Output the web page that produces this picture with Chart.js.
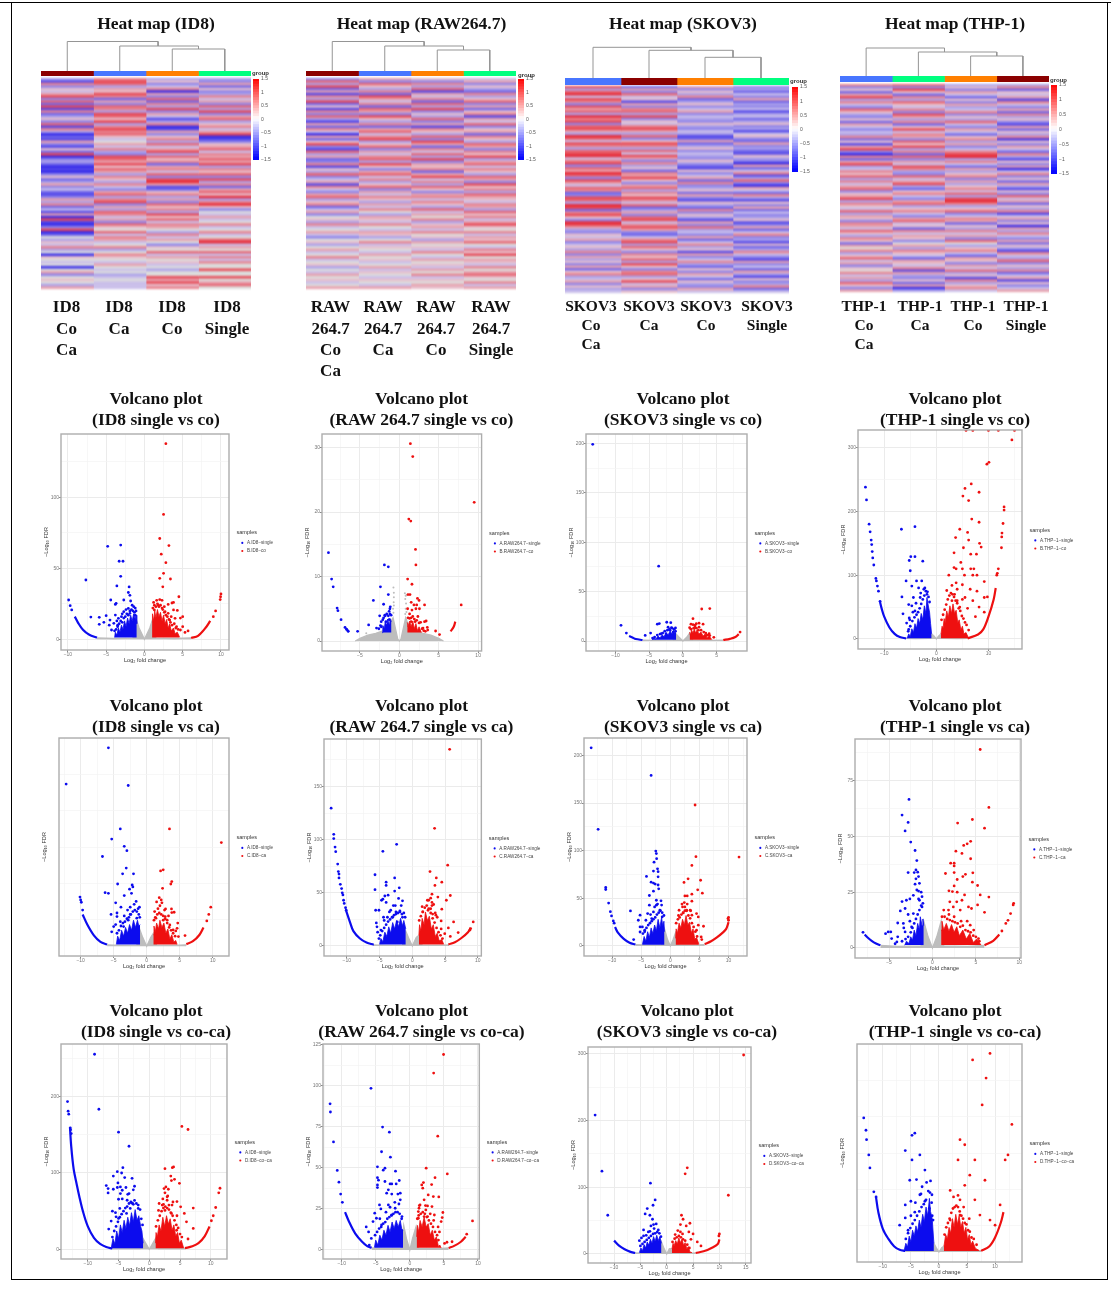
<!DOCTYPE html>
<html>
<head>
<meta charset="utf-8">
<script src="https://cdn.jsdelivr.net/npm/chart.js@4"></script>
<style>
html,body{margin:0;padding:0;background:#fff;width:1111px;height:1289px;overflow:hidden}
canvas{position:absolute;display:block}
.heat{filter:url(#rowBlur)}
.vol{filter:blur(.35px)}
.t{position:absolute;transform:translate(-50%,-50%);font:bold 17.5px "Liberation Serif",serif;color:#111;white-space:nowrap;filter:blur(.25px)}
.g{position:absolute;font:bold 6px "Liberation Sans",sans-serif;color:#333;white-space:nowrap}
.f{position:absolute;background:#000}
</style>
</head>
<body>
<svg width="0" height="0" style="position:absolute"><filter id="rowBlur" x="0" y="-3%" width="100%" height="106%" color-interpolation-filters="sRGB"><feGaussianBlur stdDeviation="0 .85"/></filter></svg>
<script>
// ---------- heat maps: one list per sample column, in steps of heatStep, top row first
const heatStep=0.25;
const id8Heat1=[-2,-5,3,-3,1,-1,2,5,-3,4,-4,5,-5,3,-4,-2,1,-3,4,-5,3,-2,-6,-4,-5,2,-3,-5,1,-4,5,-6,-3,-2,-4,-6,-5,-6,-3,1,-4,-2,2,-3,-1,-4,-5,-3,2,-2,3,-4,-1,-5,2,-6,5,-5,-6,-3,5,-6,-4,0,-2,1,-1,3,-2,0,-6,1,0,-1,0,-6,0,2,-3,0,1,0,-2,2];
const id8Heat2=[3,5,4,-2,2,1,5,3,-4,2,-3,4,3,-2,5,4,1,5,-2,3,5,3,4,1,-1,0,2,-1,3,-2,-3,5,4,2,5,1,4,2,-2,3,1,-2,3,-1,-3,2,4,-2,3,5,-3,2,-2,4,3,-1,2,-3,4,1,0,4,-1,3,2,-1,0,3,-2,0,3,1,0,-1,2,0,-1,0,-2,-1,0,-1,-1,-1];
const id8Heat3=[-2,1,-3,-1,3,-6,2,-3,4,-4,3,-2,5,-3,2,-1,-5,-2,3,-6,-5,2,-3,1,3,-2,4,-1,2,5,-2,4,1,3,-4,2,3,-1,4,-3,5,6,2,-5,-4,1,3,-2,2,-3,4,1,3,-2,5,1,4,-1,3,2,0,-2,3,-1,2,0,-3,1,0,4,-1,2,0,1,-1,0,-2,0,0,5,2,5,1,3];
const id8Heat4=[-2,-3,2,-4,1,-3,-2,3,-1,2,-3,4,-2,5,-3,2,4,-2,1,3,-1,2,5,-6,-5,-3,1,2,4,-1,3,2,4,2,5,-2,3,1,4,-3,5,-2,3,-4,2,4,1,6,-2,3,6,1,-3,0,-1,2,-1,0,3,-1,0,3,-1,0,4,6,-1,2,0,4,-1,3,-1,3,0,0,5,0,0,5,0,2,4,0];
const rawHeat1=[-3,4,-2,5,-4,2,-5,3,-2,5,-4,1,-5,3,-3,4,-2,-5,2,-4,3,-1,-6,2,-4,1,5,-3,-5,4,-2,2,-4,-3,3,-5,1,-2,4,-3,-1,2,-5,3,-1,-3,2,4,-2,1,3,-4,-1,2,-3,0,1,-2,3,-1,0,2,-1,-3,0,1,-2,0,2,-1,0,3,-1,0,1,-2,0,-1,2,0,1,-1,0,2];
const rawHeat2=[2,-3,4,1,-2,3,-4,5,2,-1,3,-4,4,2,-3,5,1,-2,3,-4,2,4,-1,3,5,-2,1,4,-3,2,-1,3,4,-2,5,1,-3,2,4,-1,3,-2,1,4,-3,2,-1,3,1,-2,2,-1,3,0,-2,2,1,-1,3,0,-1,2,1,-2,0,3,-1,1,0,-1,2,0,1,-1,0,2,-1,1,0,-1,1,0,-1,2];
const rawHeat3=[1,-3,3,-2,4,-5,2,-1,3,-4,4,-2,5,-3,1,-2,4,-3,2,-5,3,1,-2,4,-3,5,2,-4,3,-1,4,-2,5,-3,2,1,3,-4,2,5,-1,3,-2,4,1,-3,2,3,-1,3,1,-2,4,-1,2,0,3,-2,1,2,-1,3,0,1,-2,2,0,1,-1,3,0,-1,2,0,1,-1,2,0,3,-1,1,0,2,1];
const rawHeat4=[-1,2,-3,1,-2,-4,3,-2,1,4,-3,2,-4,1,3,-5,2,-1,4,-3,1,2,-4,3,1,-2,4,2,-3,3,1,5,-2,2,4,-1,3,1,-2,4,2,-3,5,1,3,-2,4,2,1,-1,3,2,-2,4,1,3,-1,2,5,1,0,3,-1,2,1,4,0,-1,3,1,5,0,2,1,-1,3,0,2,4,1,0,3,-1,2];
const skovHeat1=[5,-2,4,6,-1,5,3,-3,5,2,4,-2,6,3,5,-3,4,5,2,-2,6,4,-1,5,3,-2,4,5,6,-1,3,5,-3,4,2,6,4,-3,5,2,-1,4,3,-4,-3,5,4,-2,6,5,-4,3,5,1,-3,6,5,2,-2,-3,1,-1,2,-3,-1,1,-2,3,-3,2,-2,1,-3,2,-4,1,3,-2,-1,2,-3,1,-2,-1];
const skovHeat2=[-4,2,-3,4,-1,1,-5,2,-3,3,4,-2,5,-3,1,-1,3,5,2,-2,4,-3,1,5,3,-2,4,-1,5,2,-3,3,-2,1,-4,3,2,5,1,-3,2,4,-2,3,1,5,3,-1,4,-4,-2,2,-3,4,5,-1,3,5,2,-3,-4,-1,3,5,-2,4,1,-3,3,1,4,-2,5,1,-3,3,4,-2,1,5,-1,2,-3,1];
const skovHeat3=[2,-3,1,-2,3,-4,-2,1,-3,-1,2,-3,-1,-2,-3,1,-2,-3,-1,-2,-5,-4,2,-4,-2,1,-3,-1,-2,-3,1,-2,-4,-5,1,-3,-1,2,-4,3,-3,-2,1,-4,2,-3,-5,1,-2,-4,3,-3,1,-2,-5,2,-3,4,-2,-1,-3,2,-4,-1,3,-2,1,-5,2,-3,-1,3,-2,-4,1,-3,2,-1,-4,1,-2,-3,2,-1];
const skovHeat4=[-3,-2,-4,-1,-3,2,-4,-2,-3,-1,-5,-2,-1,-4,-2,1,-3,-2,-5,-1,1,-3,-4,2,-3,-2,-4,-5,1,-2,-3,-6,2,-4,-1,3,-5,-2,4,-3,-6,2,-1,-4,3,-2,-5,1,-3,2,-4,-1,-3,-2,1,-5,-3,2,-4,-1,3,-3,-2,-5,1,-4,-2,3,-1,-3,-5,2,-3,-1,-4,2,-2,-5,1,-3,-2,3,-4,-1];
const thpHeat1=[3,-3,1,-4,2,5,-2,3,-1,-3,4,1,-2,-3,1,-4,2,-1,-3,-1,-2,3,-4,1,-5,2,5,-3,-6,3,-4,2,5,-2,-1,3,1,4,-2,3,-1,2,4,-3,1,2,5,-2,3,1,-1,4,-2,2,1,-3,3,2,-1,4,1,-2,3,1,-4,2,0,3,-2,1,4,-1,2,-3,1,0,3,-1,2,-2,4,1,-3,2];
const thpHeat2=[4,-3,5,1,-4,3,-2,4,1,-1,3,-3,5,2,-2,3,-4,1,5,-1,3,2,-3,4,1,5,-2,3,-4,4,-3,2,-1,5,3,-2,-3,4,-1,2,5,-2,-4,1,3,-1,-3,2,4,-2,1,3,-1,-3,2,4,-1,1,-4,3,-1,2,1,-3,0,2,-2,3,1,-1,-4,2,1,-1,3,-5,2,-2,-3,1,-4,2,-6,-2];
const thpHeat3=[-2,1,-3,2,-1,-4,1,-3,2,-2,-1,3,-3,1,-2,4,-1,-3,2,-1,-4,1,3,-2,2,-3,-1,3,5,6,-2,3,-1,-4,2,-2,1,3,-3,2,-2,1,3,-1,4,-2,5,6,3,-2,1,4,-3,-1,3,2,-4,1,-2,3,-1,2,-3,4,0,-2,1,3,-1,-4,2,1,-3,2,-1,4,-2,1,-5,3,-2,1,3,-1];
const thpHeat4=[-2,3,-4,1,-1,2,-5,3,-1,-3,2,-4,3,-2,1,-3,-5,2,-4,1,-2,3,-6,1,-3,2,-1,-4,3,-2,-5,1,-3,2,-6,-1,3,-3,1,-4,2,-2,-5,1,-3,4,-1,2,-4,1,-2,3,-5,-1,2,-3,1,-6,2,-2,3,-1,-3,2,-4,1,-2,-5,3,-1,-2,4,-3,1,-2,3,-4,-1,2,-5,1,-3,-1,2];
const colourbarLevels=[-1.5,-1.4,-1.3,-1.2,-1.1,-1,-.9,-.8,-.7,-.6,-.5,-.4,-.3,-.2,-.1,0,.1,.2,.3,.4,.5,.6,.7,.8,.9,1,1.1,1.2,1.3,1.4,1.5];
const groupDarkRed='#8b0000',groupBlue='#4876ff',groupOrange='#ff7f00',groupGreen='#00ff7f';
// dendrogram polylines: x in column units, y is merge height
const id8Tree=[[.5,0,.5,29.5,2.23,29.5,2.23,25],[1.5,0,1.5,25,3,25,3,22],[2.5,0,2.5,22,3.5,22,3.5,0]];
const rawTree=[[.5,0,.5,29.5,2.25,29.5,2.25,25],[1.5,0,1.5,25,3,25,3,21],[2.5,0,2.5,21,3.5,21,3.5,0]];
const skovTree=[[.5,0,.5,30.7,2.25,30.7,2.25,27.7],[1.5,0,1.5,27.7,3,27.7,3,20.7],[2.5,0,2.5,20.7,3.5,20.7,3.5,0]];
const thpTree=[[.5,0,.5,28,2,28,2,24],[1.5,0,1.5,24,3,24,3,20],[2.5,0,2.5,20,3.5,20,3.5,0]];

// ---------- volcano plots: flat x,y lists
const id8CoBlue=[-9.9,27.7,-9.7,23.7,-9.5,20.7,-7.65,41.8,-7,15.7,-5.9,15.5,-5.3,12,-5.9,10.6,-5,16.7,-4.8,65.5,-3.1,66.4,-3.3,55,-2.8,55,-3.1,44.4,-3.6,37.6,-2,36.9,-4.4,27.7,-3.7,25.4,-3.8,24.6,-2.1,33,-1.9,31,-2.7,27.7,-1.8,27,-4.5,13.6,-3.8,17.1,-4.6,10,-4.3,6.6,-3.4,14.8,-2.7,19.5,-2.1,21.8,-1.4,23,-1.2,17,-4,11.3,-3.5,8.9,-3,16,-1.9,18.3];
const id8CoBlueCloud=[-3.7,7,-3.5,10,-3.3,11,-3.1,13,-2.9,12,-2.7,15,-2.5,16,-2.3,18,-2.1,17,-1.9,20,-1.7,21,-1.5,20,-1.3,19,-1.1,20,-3.9,6,-3.6,13,-2.4,21,-1.6,24,-1.2,22,-2.9,18];
const id8CoRed=[2.8,137.8,2.5,88,2,71,3.2,66,2.2,60,2.8,54,2.5,46.5,2,43,3.4,42.5,2.4,37,4.5,30,1.6,27.5,2.3,27.5,3.6,25.6,3.8,26,3.1,24.6,1.8,24,1.3,20.7,3.8,20.7,4.3,20.4,3.1,18.3,5,16,4.7,15,2.3,22,2.7,19.5,4,14.8,3.3,13.6,5,8.9,4.7,6.6,5.7,5.9,5.3,4.9,4.2,8.9,9,16,9.3,20,9.95,30,10,32,9.9,28];
const id8CoRedCloud=[1.1,22,1.3,24,1.5,23,1.7,25,1.9,23,2.1,24,2.4,21,2.6,19,2.8,17,3,16,3.2,14,3.4,12,3.6,10,3.9,11,4.1,8,4.4,7,1.2,26,2,28,2.6,23,3.5,16];
const id8CoBlueMass=[-3.9,1.3,-3.8,5,-3.6,3,-3.4,8,-3.2,5,-3,10,-2.8,7,-2.6,13,-2.4,9,-2.2,15,-2,11,-1.8,17,-1.6,13,-1.4,18,-1.2,14,-1.1,17,-1,11];
const id8CoRedMass=[1,12,1.05,18,1.2,13,1.35,20,1.5,15,1.7,21,1.9,16,2.1,19,2.3,13,2.5,17,2.7,11,2.9,14,3.1,8,3.3,11,3.5,6,3.8,8,4,4,4.3,5,4.6,1.5];
const id8CoBlueArc=[-9.1,16,-8.7,12,-8,6.5,-7.2,3.2,-6.2,1.2];
const id8CoRedArc=[6.1,1,7,2.5,8.1,8.9,8.6,13];
const id8CoGrey=[-6.2,1,-4,.6,-1.5,.8,-1,13,-.7,8,0,0,.7,8,1,13,1.5,.8,4,.6,6.1,1];

const rawCoBlue=[-9,13.7,-8.6,9.6,-8.4,8.4,-7.9,5.1,-7.8,4.7,-7.4,3.3,-5.3,1.5,-3.9,2.5,-3.3,6.3,-2.4,8.4,-1.9,11.8,-1.4,11.5,-1.4,7.2,-2,5.7,-1.15,5.3,-1.2,5,-1.3,4.6,-2.5,3.9,-1.85,4,-2.1,3.3,-1.7,3,-1.3,3.3,-2.9,2,-2.6,1.9,-2.3,2.2,-1.5,2.5,-6.9,2.1,-6.7,1.8,-6.5,1.5];
const rawCoBlueCloud=[-2.3,3,-2,3.6,-1.8,3.9,-1.6,4.2,-1.4,3.9,-1.2,4.2,-1.05,4,-2.4,2.4];
const rawCoRed=[1.4,30.6,1.7,28.6,1.2,18.9,1.45,18.6,9.5,21.5,2.05,14.2,2.1,11.8,1.05,9.6,1.6,8.8,1.1,7.2,1.35,7.2,2.3,6.6,2.5,6.3,1.5,6,1.85,5.6,2.2,5.6,3.2,5.6,1.05,5,1.6,4.8,2.1,5,2.55,5,1.7,3.8,2.35,3.8,1.3,3.5,3.2,3,3.4,3.1,2.7,2.9,1.5,3,2,3,4.6,1.55,5.1,1,3.55,2.1,3.6,1.7,3,2,7.85,5.6];
const rawCoRedCloud=[1.1,3.6,1.3,4.2,1.5,3.6,1.9,3.4,2.2,3.2,2.5,2.8,2.9,1.9,3.1,1.6,3.3,1.5];
const rawCoBlueMass=[-2.2,1.3,-2.1,2.4,-1.9,1.9,-1.8,3,-1.6,2.3,-1.5,3.4,-1.3,2.6,-1.2,3.5,-1,3];
const rawCoRedMass=[1,2.9,1.1,2.2,1.3,3.1,1.5,2.2,1.7,3.1,1.9,1.9,2.1,2.7,2.3,1.6,2.5,2.2,2.8,1.3];
const rawCoBlueArc=[-6.8,2,-6.4,1.4];
const rawCoRedArc=[6.5,1.5,6.9,2.2,7.1,3];
const rawCoGrey=[-5.6,0,-5,.4,-4,.9,-3,1.2,-2,1.6,-1,3.2,-.8,3.6,-.2,.3,0,0,.2,.3,.8,3.6,1,3,1.5,1.6,3,1.2,4,.9,5,.4,5.6,0];
const rawCoGreyDots=[-.75,8.3,-.7,7.5,-.7,6.8,-.72,6,-.7,5.5,-.8,5,.7,7.4,.8,7,.9,7.1,.75,6.5,.85,5.8,.8,5,.9,4.5,-4.2,1.2,-3.5,.8,.75,4.2,-.75,4.4];

const skovCoBlue=[-13.4,199,-3.6,75.7,-9.2,15.9,-8.4,8,-5.6,5.7,-4.8,8,-3.8,17,-3.5,17.6,-2.4,19,-1.8,18.6,-2.2,14,-1.7,13.5,-1.1,13.2,-2.5,7.4,-1.9,10.8,-1.45,9,-3.2,7.4];
const skovCoBlueCloud=[-4.2,4,-3.8,6,-3.4,7,-3,8,-2.7,10,-2.3,11,-2,12,-1.6,13,-1.3,12,-1.1,10,-4.5,3];
const skovCoRed=[2.8,32.4,4,32.8,1.5,22.6,1.2,17,1.5,16.5,2,17.5,2.4,18,3,17,1.8,14,2.4,14,1,13.5,3.5,5.7,3.9,7.4,4.6,3.7,8.5,9];
const skovCoRedCloud=[1.2,12,1.6,13,2,13,2.3,11,2.7,11,3.1,9,3.4,8,3.7,6,4,5.5,1.8,16];
const skovCoBlueMass=[-4.6,1.3,-4.3,3,-4,2,-3.7,5,-3.4,3,-3.1,6,-2.8,4.5,-2.5,8,-2.2,6,-1.9,10,-1.6,7,-1.4,11,-1.2,8,-1,9];
const skovCoRedMass=[1,9,1.1,6,1.3,11,1.5,8,1.7,12,1.9,8,2.1,11,2.4,7,2.7,9,3,5,3.3,7,3.6,3,3.9,5,4.3,1.5];
const skovCoBlueArc=[-8,5,-7.5,3.5,-7,2,-6,1];
const skovCoRedArc=[6,1,7,2.2,7.8,4,8.3,7];
const skovCoGrey=[-6,1,-4,.7,-1.5,.8,-1,7,-.6,4,0,0,.6,4,1,8,1.5,.8,4,.7,6,1];

const thpCoBlue=[-13.6,238,-13.4,218,-12.9,180,-12.7,168,-12.5,155,-12.4,148,-12.3,137,-12.2,127,-12,116,-11.6,95,-11.5,91,-11.3,83,-11.1,75,-10.8,59,-6.7,172,-4.1,176,-4.9,129,-4.1,129,-5.2,123,-2.6,122,-5,107,-6.6,66,-6.4,39.5,-5.8,91,-4.7,83,-3.8,91,-2.8,91,-5.3,54,-4.4,65,-3.4,80,-2.2,80,-3.1,65,-1.8,70,-5.7,25,-5.2,33,-4.1,44,-5.3,15,-4.7,52];
const thpCoBlueCloud=[-5.4,12,-5,20,-4.6,28,-4.2,34,-3.8,38,-3.5,42,-3.2,48,-2.9,55,-2.6,62,-2.3,68,-2,75,-1.7,74,-1.5,66,-1.3,58,-4.5,42,-3.9,56,-3,72,-2.4,78,-5.1,30];
const thpCoRed=[5.7,327,7,327,10,327,11.9,327,15,327,14.5,312,9.7,274,10.1,277,5.5,236,6.7,243,5.1,224,6.2,217,8.2,230,13,207,13,202,6.8,188,8.2,183,12.8,181,4.5,172,6,167,12.6,166,12.55,160,3.7,159,6.2,155,8.3,150,5.2,143,8.6,144,12.5,143,3.4,135,6.6,133,7.7,133,4.7,120,3.4,112,3.8,110,5,110,6.6,110,7.2,110,11.9,110,11.7,103,11.6,100,2.4,100,5.4,100,7,100,7.8,100,9.2,90,3.8,88,5,85,6.5,78,7.8,75,3.5,70,5.5,65,7,60,4,60,9.8,66,9.2,65,8.2,50,3,60,4.5,50,6,48,7.5,35,9.2,42];
const thpCoRedCloud=[1,30,1.3,38,1.6,46,1.9,54,2.2,62,2.5,68,2.8,72,3.1,70,3.4,66,3.7,60,4,56,4.3,48,4.6,44,4.9,36,5.2,32,5.5,26,5.8,22,6.2,14,2,76,3,84,4,78,5,62];
const thpCoBlueMass=[-5.6,1,-5.3,8,-5,4,-4.7,16,-4.4,10,-4.1,24,-3.8,17,-3.5,32,-3.2,24,-2.9,40,-2.6,30,-2.3,52,-2,40,-1.8,65,-1.5,50,-1.3,42,-1.1,24,-.9,8];
const thpCoRedMass=[.9,8,1.1,20,1.3,17,1.5,32,1.7,26,2,44,2.3,34,2.6,52,2.9,40,3.2,55,3.5,40,3.8,45,4.1,26,4.4,30,4.7,14,5,20,5.3,8,5.7,10,6.2,1];
const thpCoBlueArc=[-10.8,58,-10.5,48,-10,35,-9,18,-8,8,-7,3,-5.8,1];
const thpCoRedArc=[6,1,8,7,9,15,10,35,11,62,11.4,80];
const thpCoGrey=[-5.8,1,-4,.5,-1.5,.8,-.9,8,-.5,5,0,0,.5,5,.9,8,1.5,.8,4,.5,6,1];

const id8CaBlue=[-12.2,112,-5.8,137,-2.8,111,-4,81,-5.3,74,-3.4,69,-3,66,-6.7,62,-3.1,54,-3.65,50,-2,50,-4.4,43,-2.2,42.4,-2.1,41,-2.6,39.4,-2.3,36.6,-6.3,37,-5.8,36.6,-3.4,35,-10.1,34,-10,32,-9.9,30.4,-4.7,30,-9.7,25,-3.9,27,-5.4,22,-4.5,23,-4.5,20.5,-2.9,25,-1.3,26,-1.9,29,-2.5,22,-4,17,-4.7,15,-5.3,10,-5,13.6,-2.8,18,-1.5,19.4,-3.5,13.6];
const id8CaBlueCloud=[-4.5,9,-4.2,11,-3.9,14,-3.6,16,-3.3,17,-3,19,-2.7,20,-2.4,22,-2.1,24,-1.8,25,-1.5,24,-1.2,22,-1.05,20,-3.4,21,-2.5,27,-1.6,31,-1.1,27];
const id8CaRed=[3.45,81,11.3,71.6,2.5,52.8,2.1,52,3.8,44.7,3.65,43,2.4,40,1.9,33.6,2.2,32,1.5,30.6,2.3,30,2.85,25.8,3.75,25.8,4.15,23.5,3.8,23.3,1.7,26,1.4,19.4,2.8,20.5,3.1,18,3.5,14.7,4,11.3,4.4,10.6,4.7,16,4.6,12.4,4.8,6.7,5.8,7.4,2.5,18,9.7,27,9.4,22,9.1,17.5];
const id8CaRedCloud=[1.1,18,1.3,20,1.6,22,1.9,23,2.2,22,2.5,21,2.8,19,3.1,16,3.4,13,3.7,11,4,9,4.3,7,1.2,24,2,28,2.7,25,3.3,21];
const id8CaBlueMass=[-4.6,1.3,-4.4,7,-4.1,4,-3.8,11,-3.5,7,-3.2,13,-2.9,9,-2.6,15,-2.3,11,-2,18,-1.7,13,-1.4,18,-1.2,14,-1,15];
const id8CaRedMass=[1,8,1.1,14,1.3,10,1.5,16,1.8,12,2,18,2.3,13,2.6,16,2.9,9,3.2,12,3.5,5,3.8,8,4.1,3,4.4,4,4.6,1.3];
const id8CaBlueArc=[-9.7,22,-9,15,-8,7.5,-7,3,-6,1.2];
const id8CaRedArc=[6,1.5,7,3.5,8,8,8.6,13];
const id8CaGrey=[-6,1,-4,.6,-1.5,.8,-1,11,-.6,6,0,0,.6,6,1,9,1.5,.8,4,.6,6,1];

const rawCaBlue=[-12.4,129.6,-12,105,-12,101,-11.8,93,-11.7,88.7,-11.4,77,-11.3,70,-11.2,67.6,-11.2,64,-11,58,-10.8,54,-10.7,50,-10.6,48,-10.5,43,-10.4,40,-10.2,36,-10.1,33.6,-2.4,95.6,-4.5,89,-5.7,67,-2.7,64,-4,60,-4,57,-5.7,53,-2,54.7,-2.7,51.6,-3.7,47.8,-4.2,47,-4.7,43,-4.5,44,-4,41,-2.1,44.7,-1.5,42.5,-5.6,33.6,-5.1,33.6,-2.9,38,-3.3,33.6,-2.5,32,-1.9,32,-3.8,27,-5.5,21.7,-5.4,18,-5.3,13,-5.1,7,-4.3,24,-4.8,15,-3,27,-1.5,27,-2.3,22.6];
const rawCaBlueCloud=[-4.9,10,-4.6,14,-4.3,17,-4,20,-3.7,23,-3.4,25,-3.1,27,-2.8,29,-2.5,30,-2.2,31,-1.9,33,-1.6,30,-1.3,31,-1.1,27,-4.4,27,-3.5,32,-2.6,38,-1.7,38];
const rawCaRed=[5.7,185,3.4,110.7,5.4,76,2.7,70,3.66,64,4.5,60,3.45,57,5.8,47.5,3,48.7,2.8,45,3.9,46,2.5,43,3,41,3.25,39,5.2,43,4.5,34.6,1.6,32,3.5,31,3.1,30,3.8,27,2.8,35,2.4,33.6,6.3,22.6,4.4,23.6,5.5,17,4.4,16,4.95,11.6,5.8,9,7,12.6,9.3,22.6,8.9,16.4,8.8,15];
const rawCaRedCloud=[1.05,24,1.3,28,1.6,32,1.9,36,2.2,38,2.5,35,2.8,31,3.1,26,3.4,22,3.7,17,4,13,4.3,10,4.6,7,1.5,37,2.3,43,3,38,3.6,29];
const rawCaBlueMass=[-5,1.5,-4.8,7,-4.5,4,-4.2,13,-3.9,9,-3.6,18,-3.3,12,-3,22,-2.7,16,-2.4,24,-2.1,18,-1.8,26,-1.5,19,-1.3,24,-1,16];
const rawCaRedMass=[1,10,1.1,20,1.3,14,1.5,26,1.8,20,2,32,2.3,24,2.6,28,2.9,16,3.2,20,3.5,9,3.8,12,4.1,5,4.5,6,4.8,1.5];
const rawCaBlueArc=[-10.1,33,-9.5,22,-9,14,-8,7,-7,3.2,-5.9,1.2];
const rawCaRedArc=[5.5,1.5,6.5,3.5,7.5,7.5,8.5,13,8.9,17];
const rawCaGrey=[-6,1,-4,.6,-1.5,.8,-1,14,-.6,8,0,0,.6,8,1,10,1.5,.8,4,.6,5.6,1];

const skovCaBlue=[-13.6,208,-12.4,122.5,-3.3,179,-11.1,61.4,-11.1,59.3,-10.6,45,-10.3,36,-10.1,31.6,-9.8,26.3,-9.65,24,-6.85,36.8,-2.5,99.6,-2.4,97,-2.35,91.6,-2.8,88,-2.2,81,-2.9,78.6,-2.1,78,-4.1,73,-2.1,72.6,-3.3,67,-2.9,66,-2.6,65,-2.1,64,-2,60,-2.9,57.5,-3.6,53,-2.4,48,-1.6,47.4,-2.4,42.8,-3.6,42.8,-2.9,35.8,-3.9,34,-5.2,32.3,-5.5,27,-4.8,20,-4.4,16.5,-5.2,14.7,-3.2,28.8,-1.8,37.5,-1.4,30.5,-5.2,20,-6.3,6.7];
const skovCaBlueCloud=[-4.7,13,-4.4,15,-4.1,19,-3.8,22,-3.5,24,-3.2,26,-2.9,28,-2.6,30,-2.3,33,-2,35,-1.7,37,-1.4,35,-1.1,32,-4.2,27,-3.4,33,-2.7,41,-2.2,44,-1.5,43];
const skovCaRed=[4.25,148,4.4,93.7,11.8,93.3,3.7,84.6,3.05,70.5,2.35,66.7,5.2,69,4.7,59,5.5,55.4,3.7,54.4,2.9,52.6,2.5,52.6,3.7,47,2.4,45.6,2,44,2.5,41,1.5,37.5,2.8,37.5,2.2,34.7,3.4,37.5,4.5,34,3.7,32.3,5.7,20.7,4.8,21.8,4.5,16.5,5.3,9.5,5.4,6.7,4.8,30.5,10,27,9.9,28.8,10,30];
const skovCaRedCloud=[1,24,1.3,28,1.6,30,1.9,33,2.2,35,2.5,37,2.8,37,3.1,32,3.4,29,3.7,24,4,20,4.3,15,4.6,10,1.4,32,2.1,41,2.9,44,3.5,37];
const skovCaBlueMass=[-4.8,1.5,-4.5,10,-4.2,5,-3.9,15,-3.6,9,-3.3,19,-3,13,-2.7,22,-2.4,16,-2.1,28,-1.8,19,-1.5,30,-1.3,21,-1.1,26,-1,15];
const skovCaRedMass=[.9,8,1,18,1.2,13,1.5,24,1.8,19,2.1,28,2.4,22,2.7,32,3,22,3.3,25,3.6,14,3.9,18,4.2,7,4.5,9,4.9,2];
const skovCaBlueArc=[-9.5,20,-9,14,-8,7.5,-7,3.5,-6,1.5];
const skovCaRedArc=[5.9,2,7,5,8,9,9,14,9.6,18,10,25];
const skovCaGrey=[-6,1.5,-4,.8,-1.5,1,-1,18,-.5,7,0,0,.5,7,.9,14,1.5,1,4,.8,5.9,1.5];

const thpCaBlue=[-2.7,66.6,-3.5,59.6,-2.8,56.3,-3.15,52.5,-2.5,47.5,-2,43.7,-1.8,39.2,-2.8,33.8,-2.1,33.8,-1.9,35,-1.7,34,-1.6,32,-1.9,31,-2,28.6,-1.5,29,-1.8,26,-1.6,25.5,-1.3,25,-2.2,23.6,-2.6,22,-3,21.4,-3.5,20.8,-1.5,21.4,-1.2,18.4,-3.7,16.6,-3.15,17.7,-2.2,15.4,-2.8,15,-4,11.2,-5.1,7.2,-5.4,6.4,-4.8,7.2,-4.7,4.2,-4.3,1.9,-3.35,11,-4.1,2.7,-3.15,7.2,-2.4,9.4,-8,7];
const thpCaBlueCloud=[-3.1,4,-2.8,5,-2.5,7,-2.3,9,-2.1,11,-1.9,13,-1.7,15,-1.5,17,-1.3,19,-1.1,20,-3.5,3,-4,5,-3.3,9,-2.6,12,-1.6,22,-1.2,23];
const thpCaRed=[5.5,89,6.5,63,4.6,57.6,2.9,56,6,53.7,4.4,47.8,3.6,46,4,46.7,2.7,43.4,3.4,42.4,4.4,40,2.1,38,2.5,38,2.5,36.8,1.5,33.4,2.5,33.8,3.8,33,4.65,33.7,3.5,32,2.85,30.7,4.6,29.5,5.2,28,2.5,27.8,1.9,25.6,2.3,25.3,2.85,25,3.7,23.8,5.5,23.8,6.5,22.8,5.2,19.3,6,16,2,20.7,2.8,20.7,3.4,21.4,4.15,18.4,4.5,17.7,1.85,17,2.4,18.4,3.2,17,4,12,4.75,8,5.3,4.2,4.35,10.2,9.35,20,9.3,19.3,9,15.4,8.7,12.4,8.45,11,8,7.6];
const thpCaRedCloud=[1.1,14,1.4,14,1.7,13,2,12.5,2.3,12,2.6,11.5,2.9,11,3.2,9.5,3.5,10,3.8,8,4.1,7.5,4.4,7,4.7,5.5,5,5,5.4,3,1.3,17,1.9,15,2.5,14,3.3,12];
const thpCaBlueMass=[-3.2,1.2,-3,3,-2.7,2,-2.5,5,-2.3,3.5,-2.1,8,-1.9,5.5,-1.7,11,-1.5,8,-1.4,14,-1.2,10,-1.1,13,-1,10];
const thpCaRedMass=[1,8,1.1,12,1.3,8,1.6,11,1.9,7.5,2.2,10.5,2.5,7,2.8,9.5,3.1,5.5,3.5,8,3.9,4,4.3,6.5,4.7,2.5,5.1,4,5.6,1.3];
const thpCaBlueArc=[-7.8,6,-7.5,4.8,-7,3.2,-6.5,2,-6,1.2];
const thpCaRedArc=[6,1.2,7,3.2,7.7,6];
const thpCaGrey=[-6,1.2,-4,.7,-1.3,.9,-1,12,-.5,5,0,0,.5,5,1,12,1.3,.9,4,.7,6,1.2];

const id8CoCaBlue=[-8.9,255.6,-13.3,193.5,-13.2,181,-13.1,177,-8.2,183.5,-12.85,159,-12.8,156.5,-12.7,151.7,-5,153.5,-3.3,135,-4.3,107,-5.2,101.7,-4.5,100,-5.85,96,-4,94,-2.8,93,-5.1,87,-7,83.5,-6.7,79.6,-6.7,73.9,-5.2,81,-4.7,81.7,-3.8,81,-4.4,77.4,-2.4,82.6,-5.85,78.7,-4.7,73,-3.3,73,-5,65.6,-3.6,64.3,-2.9,61,-2.6,59,-6,50,-5.4,42.6,-6.2,37,-6.6,26.5,-4.8,53.5,-3.7,47,-5,40.4,-3.1,53.5,-1.8,53.5];
const id8CoCaBlueCloud=[-6,16,-5.7,24,-5.4,30,-5.1,36,-4.8,42,-4.5,46,-4.2,50,-3.9,54,-3.6,56,-3.3,60,-3,62,-2.7,60,-2.4,64,-2.1,60,-1.8,58,-1.5,52,-1.3,40,-1.1,32,-5.5,48,-4.4,66,-3.5,72,-2.6,78];
const id8CoCaRed=[5.3,161,6.3,157,2.55,105.6,3.75,107,3.95,108,3.5,96,4.1,91.7,3.6,90,4.9,86.5,2.7,81.7,2.4,79.6,3.1,78.7,2.55,74,2.9,68.7,2.9,64.3,2.3,59,3.2,58,3.85,62,4.5,62.6,5.1,55.6,7.15,54,5.7,47,7.15,27.4,2.1,58,1.5,51,2.55,51,3.6,47,6.05,36,4.45,25,6.3,13.5,11.5,80,11.3,74,10.8,54.8,10.4,44,10.1,37.4];
const id8CoCaRedCloud=[1.1,30,1.4,38,1.7,44,2,50,2.3,54,2.6,56,2.9,54,3.2,52,3.5,48,3.8,44,4.1,38,4.4,32,4.7,28,5,20,5.3,16,1.6,60,2.2,66,3,70,3.7,58,4.5,44];
const id8CoCaBlueMass=[-6.2,1.5,-5.9,14,-5.6,7,-5.3,24,-5,14,-4.7,32,-4.4,22,-4.1,38,-3.8,27,-3.5,42,-3.2,31,-2.9,48,-2.6,36,-2.3,52,-2,38,-1.7,44,-1.4,30,-1.2,24,-1,8];
const id8CoCaRedMass=[1,8,1.1,22,1.3,16,1.6,32,1.9,24,2.2,42,2.5,30,2.8,44,3.1,33,3.4,40,3.7,25,4,32,4.3,17,4.6,22,4.9,8,5.2,12,5.6,1.5];
const id8CoCaBlueArc=[-12.9,160,-12.7,135,-12.3,105,-11.8,85,-11.4,70,-10.8,50,-10,30,-9,15,-8,7,-7,3,-6,1];
const id8CoCaRedArc=[5.8,1.5,7,4,8,8,9,17,9.8,30];
const id8CoCaGrey=[-6,1,-4,1,-1.5,1,-1,14,-.5,7,0,0,.5,7,1,14,1.5,1,4,1,5.8,1];

const rawCoCaBlue=[-5.7,98.4,-11.7,89,-11.65,84,-11.2,65.8,-4,74.8,-3,71.7,-4.15,59.8,-2.85,56.5,-10.65,48.4,-4.75,50.6,-3.65,49.8,-3.9,48.6,-2.1,48,-10.4,41.3,-10.15,34,-9.9,29,-4.75,44,-4.6,42.5,-4.75,39.6,-4.75,38,-2.9,40.2,-2.65,40.2,-1.55,42.3,-2,40.2,-3.65,41.7,-3.15,36.6,-3.4,34.6,-2.65,34,-1.75,34,-1.4,34.6,-1.4,30.5,-4.45,27.4,-4.25,25,-3.15,27.4,-2.15,25.4,-5.15,22.4,-5.4,17.3,-6.4,14,-6.05,11,-5.65,7,-5.95,3,-4.9,19.3,-4.15,15.2,-2.65,21.3,-1.15,20.3];
const rawCoCaBlueCloud=[-5.1,9,-4.8,11,-4.5,13,-4.2,14,-3.9,16,-3.6,17,-3.3,19,-3,20,-2.7,21,-2.4,22,-2.1,23,-1.8,23,-1.5,22,-1.2,19,-4.4,19,-3.5,23,-2.9,26,-2.2,29,-1.6,28];
const rawCoCaRed=[4.95,119,3.5,107.7,4.1,69.3,2.4,49.8,5.5,46.3,3.7,44,2,41,1.75,39.6,3.2,39.8,1.9,37.6,4.25,32.3,2.7,33.5,3.45,32.5,2.1,30.5,1.5,27.4,1.35,25.4,2.6,26.8,3.25,26.4,2.35,24.4,4.85,22.8,4.75,19.7,4.6,17.3,3.6,21.3,4.15,14,4.35,11,5.1,4,5.45,4.7,6.2,5,2.6,20.3,2.1,20.3,1.25,19.3,1.25,23.4,9.2,17.7,8.35,9.6];
const rawCoCaRedCloud=[1.1,19,1.3,21,1.6,22,1.9,23,2.2,22,2.5,20,2.8,18,3.1,16,3.4,14,3.7,11,4,9,4.2,6,1.4,27,2.3,27,3,22,3.5,18];
const rawCoCaBlueMass=[-5.2,1.5,-5,6,-4.7,3,-4.4,9,-4.1,6,-3.8,12,-3.5,9,-3.2,15,-2.9,11,-2.6,17,-2.3,13,-2,18,-1.7,14,-1.4,18,-1.2,13,-1,12];
const rawCoCaRedMass=[1,8,1.1,15,1.3,11,1.5,18,1.8,14,2.1,20,2.4,14,2.7,16,3,9,3.3,12,3.6,6,3.9,8,4.2,2,4.4,3,4.6,1.3];
const rawCoCaBlueArc=[-9.5,23,-9,18,-8,10,-7,5,-6.2,2.2,-5.6,1.3];
const rawCoCaRedArc=[5.7,1.2,6.5,2.5,7.5,5,8.2,8];
const rawCoCaGrey=[-5.6,1.3,-4,.8,-1.3,.9,-.9,15,-.5,7,0,0,.4,7,.9,14,1.3,.9,4,.8,5.7,1.2];

const skovCoCaBlue=[-13.6,208,-12.3,124,-11.2,58,-3.1,106,-2.2,81,-2.6,73,-3.7,68,-3.2,58,-4.1,60,-2.7,52,-2,45,-3,42,-4.4,36,-3.5,33,-2.4,38,-1.6,36,-4.8,24,-5.2,20,-3.9,28];
const skovCoCaBlueCloud=[-5,12,-4.6,15,-4.2,18,-3.8,21,-3.4,24,-3,27,-2.6,30,-2.2,31,-1.8,33,-1.4,31,-1.1,26,-4.4,27,-3.2,34,-2.5,44];
const skovCoCaRed=[14.6,298,11.7,88,3.9,129,3.5,120,2.8,58,3.1,52,4.4,46,2.6,44,3.7,42,2.1,35,4.2,33,5,30,3,30,5.8,18,4.6,22,6.5,12,10,30,9.9,27];
const skovCoCaRedCloud=[1.1,18,1.5,23,1.9,25,2.3,27,2.7,25,3.1,22,3.5,20,3.9,14,4.3,9,1.6,29,2.6,33];
const skovCoCaBlueMass=[-5.2,2,-4.9,9,-4.6,5,-4.3,14,-4,9,-3.7,18,-3.4,13,-3.1,22,-2.8,16,-2.5,26,-2.2,19,-1.9,28,-1.6,20,-1.3,26,-1,16];
const skovCoCaRedMass=[1,8,1.2,16,1.4,12,1.7,20,2,15,2.3,24,2.6,17,2.9,22,3.2,13,3.5,17,3.8,8,4.1,11,4.4,3,4.8,2];
const skovCoCaBlueArc=[-10,20,-9,12,-8,7,-7,3.5,-6,1.5];
const skovCoCaRedArc=[5.5,1.5,7,4,8.5,9,9.7,15,10,22];
const skovCoCaGrey=[-6,1.5,-4,1,-1.5,1,-1,18,-.5,8,0,0,.5,8,1,8,1.5,1,4,1,5.5,1.5];

const thpCoCaBlue=[-13.4,185,-13,168,-12.9,155,-12.5,134,-12.3,116,-11.6,83,-11.2,76,-4.3,164,-4.8,161,-6,140,-4.8,127,-3.4,134,-5.2,99,-2.5,113,-6,65,-6,47,-3.4,79,-1.25,79,-4.3,55,-7,37,-4,100,-3,90,-2.5,70,-1.7,60,-1.2,50,-5,70,-5.5,30];
const thpCoCaBlueCloud=[-5.9,18,-5.5,26,-5.1,33,-4.7,39,-4.3,44,-3.9,50,-3.5,56,-3.1,62,-2.7,66,-2.3,72,-1.9,84,-1.6,82,-1.3,68,-1.05,44,-5,50,-4.2,68,-3.2,80,-2.2,96,-1.5,98];
const thpCoCaRed=[9.1,274,6,265,8.4,240,7.7,203,13,176,12.3,134,11.8,127,3.75,155,4.6,148,3.4,127,6.4,127,5.5,106,4.6,92,2,85,3.75,72,8.2,99,6.4,72,3.75,51,7.3,51,9.1,44,2,44,10.9,65,10,37];
const thpCoCaRedCloud=[1,24,1.3,34,1.6,40,1.9,46,2.2,54,2.5,60,2.8,62,3.1,64,3.4,62,3.7,56,4,50,4.3,46,4.6,40,4.9,38,5.2,30,5.5,28,5.8,20,6.2,18,6.7,10,2.6,76,3.4,78,4.4,62,5.4,46];
const thpCoCaBlueMass=[-6.2,2,-5.9,12,-5.6,7,-5.3,22,-5,14,-4.7,30,-4.4,22,-4.1,36,-3.8,28,-3.5,44,-3.2,34,-2.9,52,-2.6,42,-2.3,62,-2,50,-1.7,74,-1.5,56,-1.2,46,-.9,12];
const thpCoCaRedMass=[.9,8,1.2,24,1.5,18,1.8,34,2.1,26,2.4,46,2.7,34,3,52,3.3,38,3.6,50,3.9,34,4.2,42,4.5,26,4.8,34,5.1,17,5.4,24,5.7,10,6,15,6.5,5,7.2,2];
const thpCoCaBlueArc=[-11.2,75,-10.8,55,-10,32,-9,18,-8,8,-7,3,-6,1.5];
const thpCoCaRedArc=[7.5,1.5,9,8,10,20,11,40,11.5,55];
const thpCoCaGrey=[-6,1.5,-4,1,-1.5,1,-.9,12,-.5,6,0,0,.5,6,.9,8,1.5,1,5,1,7.5,1.5];

// ---------- texts
const heatTitles=[['Heat map (ID8)',156,23],['Heat map (RAW264.7)',421.5,23],['Heat map (SKOV3)',683,23],['Heat map (THP-1)',955,23]];
const sampleLabels=[
 ['ID8',66.5,307],['Co',66.5,329],['Ca',66.5,350],['ID8',119,307],['Ca',119,329],['ID8',172,307],['Co',172,329],['ID8',227,307],['Single',227,329],
 ['RAW',330.5,307],['264.7',330.5,329],['Co',330.5,350],['Ca',330.5,371],['RAW',383,307],['264.7',383,329],['Ca',383,350],['RAW',436,307],['264.7',436,329],['Co',436,350],['RAW',491,307],['264.7',491,329],['Single',491,350],
 ['SKOV3',591,306],['Co',591,325],['Ca',591,344],['SKOV3',649,306],['Ca',649,325],['SKOV3',706,306],['Co',706,325],['SKOV3',767,306],['Single',767,325],
 ['THP-1',864,306],['Co',864,325],['Ca',864,344],['THP-1',920,306],['Ca',920,325],['THP-1',973,306],['Co',973,325],['THP-1',1026,306],['Single',1026,325]];
const volcanoTitles=[
 ['Volcano plot',156,398],['(ID8 single vs co)',156,419],['Volcano plot',421.5,398],['(RAW 264.7 single vs co)',421.5,419],['Volcano plot',683,398],['(SKOV3 single vs co)',683,419],['Volcano plot',955,398],['(THP-1 single vs co)',955,419],
 ['Volcano plot',156,705],['(ID8 single vs ca)',156,726],['Volcano plot',421.5,705],['(RAW 264.7 single vs ca)',421.5,726],['Volcano plot',683,705],['(SKOV3 single vs ca)',683,726],['Volcano plot',955,705],['(THP-1 single vs ca)',955,726],
 ['Volcano plot',156,1010],['(ID8 single vs co-ca)',156,1031],['Volcano plot',421.5,1010],['(RAW 264.7 single vs co-ca)',421.5,1031],['Volcano plot',687,1010],['(SKOV3 single vs co-ca)',687,1031],['Volcano plot',955,1010],['(THP-1 single vs co-ca)',955,1031]];

// ---------- layout tables
const heatPanels=[
 {c:[id8Heat1,id8Heat2,id8Heat3,id8Heat4],g:[groupDarkRed,groupBlue,groupOrange,groupGreen],tree:id8Tree,l:41,w:210,barT:71,barH:5,t:78,h:211,cbL:253,cbT:78,cbH:83,gx:252,gy:73},
 {c:[rawHeat1,rawHeat2,rawHeat3,rawHeat4],g:[groupDarkRed,groupBlue,groupOrange,groupGreen],tree:rawTree,l:306,w:210,barT:71,barH:5,t:78,h:211,cbL:518,cbT:78,cbH:83,gx:518,gy:75},
 {c:[skovHeat1,skovHeat2,skovHeat3,skovHeat4],g:[groupBlue,groupDarkRed,groupOrange,groupGreen],tree:skovTree,l:565,w:224,barT:78,barH:7,t:86,h:207,cbL:792,cbT:86,cbH:87,gx:790,gy:81.5},
 {c:[thpHeat1,thpHeat2,thpHeat3,thpHeat4],g:[groupBlue,groupGreen,groupOrange,groupDarkRed],tree:thpTree,l:840,w:209,barT:76,barH:6,t:84,h:208,cbL:1051,cbT:84,cbH:91,gx:1050,gy:80.5}];
const volcanoPanels=[
 {a:'A.ID8−single',b:'B.ID8−co',d:[id8CoBlue,id8CoRed,id8CoBlueMass,id8CoRedMass,id8CoBlueArc,id8CoRedArc,id8CoGrey],cb:id8CoBlueCloud,cr:id8CoRedCloud,L:61,T:434,R:229,B:650,x:[-10.9,11.05],y:[-7.5,144.6],mx:5,my:50},
 {a:'A.RAW264.7−single',b:'B.RAW264.7−co',d:[rawCoBlue,rawCoRed,rawCoBlueMass,rawCoRedMass,rawCoBlueArc,rawCoRedArc,rawCoGrey,rawCoGreyDots],cb:rawCoBlueCloud,cr:rawCoRedCloud,L:322,T:434,R:480,B:651,x:[-9.82,10.44],y:[-1.55,32.1],mx:5,my:10},
 {a:'A.SKOV3−single',b:'B.SKOV3−co',d:[skovCoBlue,skovCoRed,skovCoBlueMass,skovCoRedMass,skovCoBlueArc,skovCoRedArc,skovCoGrey],cb:skovCoBlueCloud,cr:skovCoRedCloud,L:586,T:434,R:747,B:651,x:[-14.4,9.53],y:[-10.1,209.4],mx:5,my:50},
 {a:'A.THP−1−single',b:'B.THP−1−co',d:[thpCoBlue,thpCoRed,thpCoBlueMass,thpCoRedMass,thpCoBlueArc,thpCoRedArc,thpCoGrey],cb:thpCoBlueCloud,cr:thpCoRedCloud,L:858,T:430,R:1022,B:649,x:[-15.03,16.44],y:[-15.7,327.6],mx:10,my:100},
 {a:'A.ID8−single',b:'C.ID8−ca',d:[id8CaBlue,id8CaRed,id8CaBlueMass,id8CaRedMass,id8CaBlueArc,id8CaRedArc,id8CaGrey],cb:id8CaBlueCloud,cr:id8CaRedCloud,L:59,T:738,R:229,B:956,x:[-13.28,12.46],y:[-6.7,143.8],mx:5,my:50},
 {a:'A.RAW264.7−single',b:'C.RAW264.7−ca',d:[rawCaBlue,rawCaRed,rawCaBlueMass,rawCaRedMass,rawCaBlueArc,rawCaRedArc,rawCaGrey],cb:rawCaBlueCloud,cr:rawCaRedCloud,L:324,T:739,R:479,B:956,x:[-13.49,10.54],y:[-9.43,194.7],mx:5,my:50},
 {a:'A.SKOV3−single',b:'C.SKOV3−ca',d:[skovCaBlue,skovCaRed,skovCaBlueMass,skovCaRedMass,skovCaBlueArc,skovCaRedArc,skovCaGrey],cb:skovCaBlueCloud,cr:skovCaRedCloud,L:584,T:738,R:747,B:956,x:[-14.83,13.17],y:[-10.5,218.3],mx:5,my:50},
 {a:'A.THP−1−single',b:'C.THP−1−ca',d:[thpCaBlue,thpCaRed,thpCaBlueMass,thpCaRedMass,thpCaBlueArc,thpCaRedArc,thpCaGrey],cb:thpCaBlueCloud,cr:thpCaRedCloud,L:855,T:739,R:1021,B:958,x:[-8.92,10.2],y:[-4.5,93.7],mx:5,my:25},
 {a:'A.ID8−single',b:'D.ID8−co−ca',d:[id8CoCaBlue,id8CoCaRed,id8CoCaBlueMass,id8CoCaRedMass,id8CoCaBlueArc,id8CoCaRedArc,id8CoCaGrey],cb:id8CoCaBlueCloud,cr:id8CoCaRedCloud,L:61,T:1044,R:227,B:1259,x:[-14.36,12.64],y:[-12.7,269],mx:5,my:100},
 {a:'A.RAW264.7−single',b:'D.RAW264.7−co−ca',d:[rawCoCaBlue,rawCoCaRed,rawCoCaBlueMass,rawCoCaRedMass,rawCoCaBlueArc,rawCoCaRedArc,rawCoCaGrey],cb:rawCoCaBlueCloud,cr:rawCoCaRedCloud,L:323,T:1044,R:476,B:1259,x:[-12.74,10.2],y:[-5.5,125.4],mx:5,my:25},
 {a:'A.SKOV3−single',b:'D.SKOV3−co−ca',d:[skovCoCaBlue,skovCoCaRed,skovCoCaBlueMass,skovCoCaRedMass,skovCoCaBlueArc,skovCoCaRedArc,skovCoCaGrey],cb:skovCoCaBlueCloud,cr:skovCoCaRedCloud,L:588,T:1047,R:751,B:1263,x:[-14.95,16],y:[-13.5,310],mx:5,my:100},
 {a:'A.THP−1−single',b:'D.THP−1−co−ca',d:[thpCoCaBlue,thpCoCaRed,thpCoCaBlueMass,thpCoCaRedMass,thpCoCaBlueArc,thpCoCaRedArc,thpCoCaGrey],cb:thpCoCaBlueCloud,cr:thpCoCaRedCloud,L:857,T:1044,R:1022,B:1262,x:[-14.6,14.8],y:[-13.8,287],mx:5,my:100}];

// ---------- helpers
Chart.defaults.animation=false;
Chart.defaults.responsive=false;
Chart.defaults.font.family='"Liberation Sans",sans-serif';
function canvas(l,t,w,h,cls){const c=document.createElement('canvas');c.width=w;c.height=h;c.style.left=l+'px';c.style.top=t+'px';c.style.width=w+'px';c.style.height=h+'px';if(cls)c.className=cls;document.body.appendChild(c);return c}
function pairs(a){const o=[];for(let i=0;i+1<a.length;i+=2)o.push({x:a[i],y:a[i+1]});return o}
function rgbOf(v){const t=Math.min(1,Math.abs(v)/1.5);return v>=0?[255,255*(1-t),255*(1-t)]:[255*(1-t),255*(1-t),255]}
function css(c){return 'rgb('+c.map(Math.round).join(',')+')'}
function barColour(v){return css(rgbOf(v))}
const haze=[176,140,184],hazeAmount=.3;
function cellColour(s){if(s===0)return '#dcdcdc';return css(rgbOf(s*heatStep).map((c,i)=>c+(haze[i]-c)*hazeAmount))}
const noLegend={legend:{display:false},tooltip:{enabled:false}};
function text(s,x,y,size){const d=document.createElement('div');d.className='t';d.textContent=s;d.style.left=x+'px';d.style.top=y+'px';if(size)d.style.fontSize=size+'px';document.body.appendChild(d)}
function rule(l,t,w,h){const d=document.createElement('div');d.className='f';d.style.cssText+='left:'+l+'px;top:'+t+'px;width:'+w+'px;height:'+h+'px';document.body.appendChild(d)}

// page frame
rule(0,2,1111,1);rule(11,2,1,1278);rule(1107,2,1,1278);rule(11,1279,1097,1);

heatTitles.forEach(t=>text(t[0],t[1],t[2]));
sampleLabels.forEach((t,i)=>text(t[0],t[1],t[2],i<22?17:15.5));
volcanoTitles.forEach(t=>text(t[0],t[1],t[2]));

// ---------- heat panels
heatPanels.forEach(p=>{
  const rows=p.c[0].map((_,i)=>i+1);
  const stackedX={display:false,stacked:true,min:0,max:4},stackedY={display:false,stacked:true};
  new Chart(canvas(p.l,p.t,p.w,p.h,'heat'),{type:'bar',data:{labels:rows,datasets:p.c.map(col=>({data:col.map(()=>1),backgroundColor:col.map(cellColour),borderWidth:0,barPercentage:1,categoryPercentage:1}))},
    options:{indexAxis:'y',layout:{padding:0},plugins:noLegend,scales:{x:stackedX,y:stackedY}}});
  new Chart(canvas(p.l,p.barT,p.w,p.barH),{type:'bar',data:{labels:['group'],datasets:p.g.map(c=>({data:[1],backgroundColor:c,borderWidth:0,barPercentage:1,categoryPercentage:1}))},
    options:{indexAxis:'y',layout:{padding:0},plugins:noLegend,scales:{x:stackedX,y:stackedY}}});
  // dendrogram
  const treeH=34;
  new Chart(canvas(p.l,p.barT-treeH,p.w,treeH),{type:'scatter',data:{datasets:p.tree.map(a=>({data:pairs(a),showLine:true,borderColor:'#959595',borderWidth:1,pointRadius:0,tension:0}))},
    options:{layout:{padding:0},plugins:noLegend,scales:{x:{display:false,min:0,max:4},y:{display:false,min:0,max:treeH}}}});
  // colour bar
  new Chart(canvas(p.cbL,p.cbT-4,26,p.cbH+8),{type:'bar',data:{labels:['v'],datasets:colourbarLevels.slice(0,-1).map((v,i)=>({data:[[v,colourbarLevels[i+1]+.015]],backgroundColor:barColour((v+colourbarLevels[i+1])/2),borderWidth:0,barPercentage:1,categoryPercentage:1,grouped:false}))},
    options:{layout:{padding:{top:4,bottom:4}},plugins:noLegend,scales:{
      x:{display:false,stacked:false},
      y:{position:'right',min:-1.5,max:1.5,afterFit:s=>{s.width=20},grid:{display:false,drawTicks:false,tickLength:0},border:{display:false},
         ticks:{stepSize:.5,padding:2,font:{size:5},color:'#555',autoSkip:false,callback:v=>String(v).replace('-','−')}}}}});
  const g=document.createElement('div');g.className='g';g.textContent='group';g.style.left=p.gx+'px';g.style.top=(p.gy-3.5)+'px';document.body.appendChild(g);
});

// ---------- volcano panels
const framePlugin={id:'panelFrame',afterDatasetsDraw(c){const a=c.chartArea,x=c.ctx;x.save();x.strokeStyle='#adadad';x.lineWidth=1.4;x.strokeRect(a.left,a.top,a.right-a.left,a.bottom-a.top);x.restore()}};
const BLUE='#0c0cee',RED='#ee1010',GREY='#bdbdbd';
function axis(range,major,extra){
  const isMajor=v=>Math.abs(v/major-Math.round(v/major))<1e-6;
  return Object.assign({type:'linear',min:range[0],max:range[1],
    grid:{color:c=>c.tick&&isMajor(c.tick.value)?'#ebebeb':'#f4f4f4',lineWidth:c=>c.tick&&isMajor(c.tick.value)?1:.7,tickColor:c=>c.tick&&isMajor(c.tick.value)?'#888':'rgba(0,0,0,0)',tickLength:2},
    border:{display:false},
    ticks:{stepSize:major/2,includeBounds:false,autoSkip:false,maxRotation:0,padding:0,font:{size:5},color:'#777',callback:v=>isMajor(v)?String(v).replace('-','−'):''}},extra);
}
volcanoPanels.forEach(p=>{
  const plotW=p.R-p.L,plotH=p.B-p.T,W=plotW+20+90,H=plotH+4+14;
  const line=(arr,colour,width,fillTo,tension)=>({type:'line',label:'',data:pairs(arr),borderColor:colour,borderWidth:width,pointRadius:0,tension:tension||0,backgroundColor:colour,fill:fillTo===undefined||fillTo===null?false:{value:fillTo}});
  const pts=(arr,colour,label,r)=>({label,data:pairs(arr),backgroundColor:colour,borderColor:colour,pointRadius:r||1.4,pointBorderWidth:0});
  const d=p.d;
  const sets=[pts(d[0].concat(p.cb),BLUE,p.a),pts(d[1].concat(p.cr),RED,p.b),line(d[2],BLUE,.8,1.3),line(d[3],RED,.8,1.3),line(d[4],BLUE,2.2,null,.35),line(d[5],RED,2.2,null,.35)];
  if(d[7])sets.push(pts(d[7],GREY,'',1));
  sets.push(line(d[6],GREY,1.3,0));
  const ch=new Chart(canvas(p.L-20,p.T-4,W,H,'vol'),{type:'scatter',plugins:[framePlugin],
    data:{datasets:sets},
    options:{layout:{padding:{top:4,left:0,right:0,bottom:0}},
      plugins:{tooltip:{enabled:false},legend:{display:true,position:'right',align:'start',
        title:{display:true,position:'start',text:'samples',color:'#333',font:{size:5.5},padding:{top:0,bottom:.5}},
        labels:{filter:i=>!!i.text,usePointStyle:true,pointStyle:'circle',boxWidth:4.6,boxHeight:1.5,padding:3.5,font:{size:4.6},color:'#444'}}},
      scales:{
        x:axis(p.x,p.mx,{afterFit:s=>{s.height=14},title:{display:true,text:'Log₂ fold change',color:'#333',font:{size:5.6},padding:0}}),
        y:axis(p.y,p.my,{afterFit:s=>{s.width=20},title:{display:true,text:'−Log₁₀ FDR',color:'#333',font:{size:5.6},padding:{top:2,bottom:1}}})}}});
  const legend=ch.legend;
  ch.options.layout.padding.right=Math.max(0,W-(plotW+20)-legend.width);
  const draw=legend.draw;
  legend.draw=function(){const x=this.ctx;x.save();x.translate(7.5,plotH/2-12);draw.call(this);x.restore()};
  ch.update('none');
});
</script>
</body>
</html>
